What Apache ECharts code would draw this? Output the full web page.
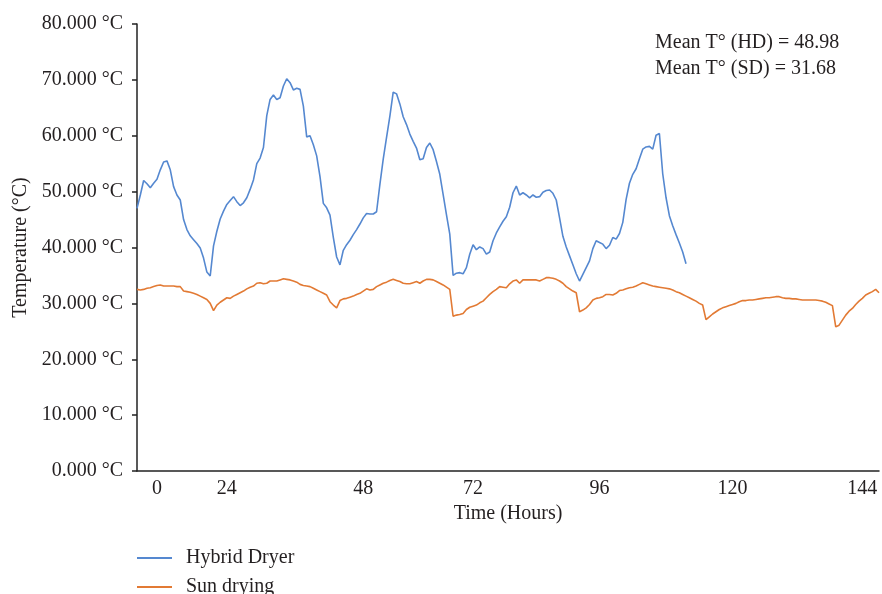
<!DOCTYPE html>
<html><head><meta charset="utf-8">
<script src="https://cdn.jsdelivr.net/npm/echarts@6/dist/echarts.min.js"></script>
<style>html,body{margin:0;padding:0;background:#fff}#c{width:882px;height:594px}</style>
</head><body><div id="c"></div>
<script>
// Hybrid dryer temperature (°C), uniformly spaced samples
const hybridDryer = [
47.0,49.4,52.0,51.4,50.7,51.5,52.2,53.9,55.3,55.5,
53.9,50.9,49.4,48.5,45.0,43.2,42.1,41.4,40.7,39.9,
38.1,35.6,34.9,40.3,42.9,45.1,46.5,47.7,48.4,49.1,
48.2,47.5,48.0,48.9,50.4,52.1,55.0,56.0,57.9,63.6,
66.5,67.3,66.5,66.8,68.9,70.2,69.5,68.2,68.5,68.3,
65.3,59.8,60.0,58.4,56.4,52.7,47.9,47.1,45.8,41.8,
38.3,36.9,39.5,40.5,41.3,42.3,43.2,44.2,45.3,46.1,
46.0,46.0,46.4,51.3,55.8,59.7,63.5,67.8,67.5,65.7,
63.4,62.0,60.3,59.0,57.8,55.7,55.9,57.9,58.7,57.5,
55.4,53.1,49.5,45.9,42.4,35.0,35.4,35.5,35.3,36.4,
38.8,40.5,39.6,40.1,39.8,38.8,39.2,41.2,42.6,43.7,
44.7,45.5,47.2,49.8,51.0,49.4,49.8,49.4,48.9,49.4,
49.0,49.1,49.9,50.2,50.3,49.7,48.5,45.3,42.0,40.1,
38.5,36.9,35.3,34.0,35.2,36.4,37.6,39.8,41.2,40.9,
40.6,39.8,40.4,41.8,41.5,42.5,44.5,48.6,51.5,53.1,
54.1,55.9,57.6,58.0,58.1,57.6,60.1,60.4,53.2,48.9,
45.7,43.9,42.3,40.8,39.2,37.1
];
// Sun drying temperature (°C), same sampling
const sunDrying = [
32.5,32.4,32.5,32.7,32.8,33.0,33.2,33.3,33.1,33.1,
33.1,33.1,33.0,33.0,32.2,32.1,32.0,31.8,31.6,31.3,
31.0,30.7,30.0,28.7,29.7,30.2,30.6,31.0,30.9,31.3,
31.6,31.9,32.2,32.6,32.9,33.1,33.6,33.7,33.5,33.6,
34.0,34.0,34.0,34.2,34.4,34.3,34.2,34.0,33.8,33.4,
33.2,33.1,33.0,32.7,32.4,32.1,31.8,31.5,30.3,29.7,
29.2,30.5,30.8,30.9,31.1,31.3,31.6,31.8,32.2,32.6,
32.4,32.5,33.0,33.3,33.6,33.8,34.1,34.3,34.1,33.9,
33.6,33.5,33.5,33.7,33.9,33.6,34.0,34.3,34.3,34.2,
33.9,33.6,33.3,32.9,32.5,27.7,27.9,28.0,28.2,28.9,
29.3,29.5,29.7,30.1,30.4,31.0,31.6,32.1,32.5,33.0,
32.9,32.8,33.5,34.0,34.2,33.6,34.2,34.2,34.2,34.2,
34.2,34.0,34.3,34.6,34.6,34.5,34.3,34.0,33.6,33.0,
32.6,32.2,31.9,28.5,28.8,29.2,29.8,30.6,30.9,31.0,
31.2,31.6,31.6,31.5,31.8,32.3,32.4,32.6,32.8,32.9,
33.1,33.4,33.7,33.5,33.3,33.1,33.0,32.9,32.8,32.7,
32.6,32.4,32.1,31.9,31.6,31.3,31.0,30.7,30.4,30.0,
29.7,27.1,27.6,28.1,28.5,28.9,29.2,29.4,29.6,29.8,
30.0,30.3,30.5,30.5,30.6,30.6,30.7,30.8,30.9,31.0,
31.0,31.1,31.2,31.2,31.0,30.9,30.9,30.8,30.8,30.7,
30.6,30.6,30.6,30.6,30.6,30.5,30.4,30.2,29.9,29.6,
25.8,26.1,27.0,27.9,28.6,29.1,29.8,30.4,30.9,31.5,
31.8,32.1,32.5,31.9
];
// x tick labels (hours) and the sample index at which each one is printed
const tickLabels = ['0','24','48','72','96','120','144'];
const tickAt = [6,27,68,101,139,179,218];
const seriesNames = ['Hybrid Dryer','Sun drying'];
const notes = ['Mean T\u00b0 (HD) = 48.98','Mean T\u00b0 (SD) = 31.68'];
const yMin = 0, yMax = 80, yStep = 10;

const categories = sunDrying.map((_, i) => {
  const k = tickAt.indexOf(i);
  return k >= 0 ? tickLabels[k] : '';
});

const FONT = '"Liberation Serif", "DejaVu Serif", serif';
const TXT = '#231f20';
const COLORS = ['#5588d0', '#e27a34'];
const legendTops = [548, 577];
const chart = echarts.init(document.getElementById('c'), null, {renderer: 'canvas'});
chart.setOption({
  animation: false,
  backgroundColor: '#fff',
  grid: {left: 137, right: 1, top: 24, bottom: 123, containLabel: false},
  xAxis: {
    type: 'category',
    data: categories,
    boundaryGap: false,
    axisLine: {show: true, lineStyle: {color: '#222', width: 1.5}},
    axisTick: {show: false},
    axisLabel: {interval: 0, margin: 8, fontFamily: FONT, fontSize: 20, color: TXT},
    splitLine: {show: false},
    name: 'Time (Hours)',
    nameLocation: 'middle',
    nameGap: 33,
    nameTextStyle: {fontFamily: FONT, fontSize: 20, color: TXT}
  },
  yAxis: {
    type: 'value',
    min: yMin, max: yMax, interval: yStep,
    axisLine: {show: true, lineStyle: {color: '#222', width: 1.5}},
    axisTick: {show: true, length: 5, lineStyle: {color: '#222', width: 1.5}},
    axisLabel: {
      margin: 14, fontFamily: FONT, fontSize: 20, color: TXT,
      formatter: v => v.toFixed(3) + ' \u00b0C'
    },
    splitLine: {show: false},
    name: 'Temperature (\u00b0C)',
    nameLocation: 'middle',
    nameGap: 105,
    nameTextStyle: {fontFamily: FONT, fontSize: 20, color: TXT}
  },
  legend: seriesNames.map((n, k) => ({
    orient: 'vertical',
    left: 137, top: legendTops[k], padding: 0,
    itemWidth: 35, itemHeight: 2,
    icon: 'rect',
    textStyle: {fontFamily: FONT, fontSize: 20, color: TXT, padding: [0, 0, 0, 9]},
    data: [n]
  })),
  graphic: [{
    type: 'text', x: 655, y: 30,
    style: {text: notes.join('\n'), font: '20px ' + FONT, fill: TXT, lineHeight: 26}
  }],
  series: [
    {name: seriesNames[0], type: 'line', data: hybridDryer, showSymbol: false,
     lineStyle: {color: COLORS[0], width: 1.6}, itemStyle: {color: COLORS[0]}},
    {name: seriesNames[1], type: 'line', data: sunDrying, showSymbol: false,
     lineStyle: {color: COLORS[1], width: 1.6}, itemStyle: {color: COLORS[1]}}
  ]
});
</script></body></html>
